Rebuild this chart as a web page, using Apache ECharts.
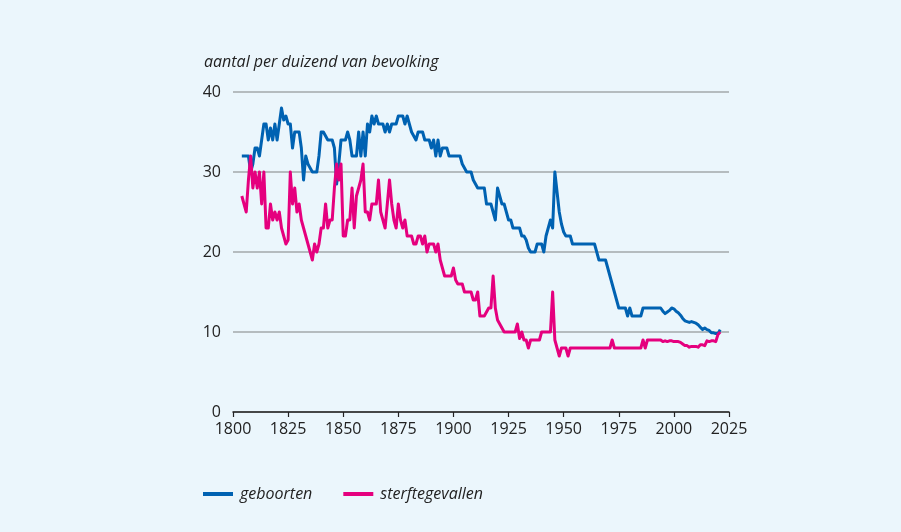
<!DOCTYPE html>
<html>
<head>
<meta charset="utf-8">
<script src="https://cdn.jsdelivr.net/npm/echarts@6/dist/echarts.min.js"></script>
<style>
  html, body { margin: 0; padding: 0; background: #ebf6fc; }
  #chart { width: 901px; height: 532px; }
</style>
</head>
<body>
<div id="chart"></div>
<script>
// geboorten en sterftegevallen per 1000 inwoners, jaarlijks vanaf 1804
const firstYear = 1804
const geboorten = [
  32, 32, 32, 32, 30, 31, 33, 33, 32, 34, // 1804-1813
  36, 36, 34, 35.5, 34, 36, 34, 36, 38, 36.5, // 1814-1823
  37, 36, 36, 33, 35, 35, 35, 33, 29, 32, // 1824-1833
  31, 30.5, 30, 30, 30, 32, 35, 35, 34.5, 34, // 1834-1843
  34, 34, 33, 28.5, 31, 34, 34, 34, 35, 34, // 1844-1853
  32, 32, 32, 35, 32, 35, 32, 36, 35, 37, // 1854-1863
  36, 37, 36, 36, 36, 35, 36, 35, 36, 36, // 1864-1873
  36, 37, 37, 37, 36, 37, 36, 35, 34.5, 34, // 1874-1883
  35, 35, 35, 34, 34, 34, 33, 34, 32, 34, // 1884-1893
  32, 33, 33, 33, 32, 32, 32, 32, 32, 32, // 1894-1903
  31, 30.5, 30, 30, 30, 29, 28.5, 28, 28, 28, // 1904-1913
  28, 26, 26, 26, 25, 24, 28, 27, 26, 26, // 1914-1923
  25, 24, 24, 23, 23, 23, 23, 22, 22, 21.5, // 1924-1933
  20.5, 20, 20, 20, 21, 21, 21, 20, 22, 23, // 1934-1943
  24, 23, 30, 27.5, 25, 23.5, 22.5, 22, 22, 22, // 1944-1953
  21, 21, 21, 21, 21, 21, 21, 21, 21, 21, // 1954-1963
  21, 20, 19, 19, 19, 19, 18, 17, 16, 15, // 1964-1973
  14, 13, 13, 13, 13, 12, 13, 12, 12, 12, // 1974-1983
  12, 12, 13, 13, 13, 13, 13, 13, 13, 13, // 1984-1993
  13, 12.6, 12.3, 12.5, 12.7, 13, 12.9, 12.6, 12.4, 12.1, // 1994-2003
  11.7, 11.4, 11.3, 11.2, 11.3, 11.2, 11.1, 10.9, 10.6, 10.3, // 2004-2013
  10.5, 10.3, 10.2, 9.9, 9.9, 9.8, 9.8, 10.3 // 2014-2021
]
const sterftegevallen = [
  27, 26, 25, 29, 32, 28, 30, 28, 30, 26, // 1804-1813
  30, 23, 23, 26, 24, 25, 24, 25, 23, 22, // 1814-1823
  21, 21.5, 30, 26, 28, 25, 26, 24, 23, 22, // 1824-1833
  21, 20, 19, 21, 20, 21, 23, 23, 26, 23, // 1834-1843
  24, 24, 28, 31, 29, 31, 22, 22, 24, 24, // 1844-1853
  28, 23, 27, 28, 29, 31, 25, 25, 24, 26, // 1854-1863
  26, 26, 29, 25, 24, 23, 26, 29, 26, 24, // 1864-1873
  23, 26, 24, 23, 24, 22, 22, 22, 21, 21, // 1874-1883
  22, 22, 21, 22, 20, 21, 21, 21, 20, 21, // 1884-1893
  19, 18, 17, 17, 17, 17, 18, 16.5, 16, 16, // 1894-1903
  16, 15, 15, 15, 15, 14, 14, 15, 12, 12, // 1904-1913
  12, 12.5, 13, 13, 17, 13, 11.5, 11, 10.5, 10, // 1914-1923
  10, 10, 10, 10, 10, 11, 9.2, 10, 9, 9, // 1924-1933
  8, 9, 9, 9, 9, 9, 10, 10, 10, 10, // 1934-1943
  10, 15, 9, 8, 7, 8, 8, 8, 7, 8, // 1944-1953
  8, 8, 8, 8, 8, 8, 8, 8, 8, 8, // 1954-1963
  8, 8, 8, 8, 8, 8, 8, 8, 9, 8, // 1964-1973
  8, 8, 8, 8, 8, 8, 8, 8, 8, 8, // 1974-1983
  8, 8, 9, 8, 9, 9, 9, 9, 9, 9, // 1984-1993
  9, 8.8, 8.9, 8.8, 8.9, 8.9, 8.8, 8.8, 8.8, 8.7, // 1994-2003
  8.5, 8.3, 8.3, 8.1, 8.2, 8.2, 8.2, 8.1, 8.4, 8.4, // 2004-2013
  8.3, 8.9, 8.8, 8.9, 8.9, 8.8, 9.7, 10 // 2014-2021
]
const yearTicks = [1800, 1825, 1850, 1875, 1900, 1925, 1950, 1975, 2000, 2025]
const valueTicks = [0, 10, 20, 30, 40]

const blue = '#0062b2'
const pink = '#e5007e'
const textColor = '#222'
const font = '"Open Sans", "Noto Sans", sans-serif'

const toPairs = (values) => values.map((v, i) => [firstYear + i, v])

const chart = echarts.init(document.getElementById('chart'))

chart.setOption({
  animation: false,
  backgroundColor: '#ebf6fc',
  textStyle: { fontFamily: font },
  title: {
    text: 'aantal per duizend van bevolking',
    left: 199,
    top: 49,
    textStyle: {
      fontFamily: font,
      fontStyle: 'italic',
      fontWeight: 'normal',
      fontSize: 16,
      color: textColor
    }
  },
  legend: {
    left: 198,
    top: 481,
    itemWidth: 30,
    itemHeight: 4,
    itemGap: 31,
    icon: 'rect',
    textStyle: {
      fontFamily: font,
      fontStyle: 'italic',
      fontSize: 16,
      color: textColor,
      padding: [0, 0, 0, 2]
    },
    data: ['geboorten', 'sterftegevallen']
  },
  grid: {
    left: 233,
    right: 172,
    top: 92,
    bottom: 120,
    containLabel: false
  },
  xAxis: {
    type: 'value',
    min: yearTicks[0],
    max: yearTicks[yearTicks.length - 1],
    interval: 25,
    axisLine: { show: true, lineStyle: { color: '#222', width: 1.5 } },
    axisTick: { show: true, length: 5, lineStyle: { color: '#222', width: 1.2 } },
    axisLabel: {
      color: textColor,
      fontSize: 16,
      margin: 9,
      formatter: (v) => String(v)
    },
    splitLine: { show: false }
  },
  yAxis: {
    type: 'value',
    min: valueTicks[0],
    max: valueTicks[valueTicks.length - 1],
    interval: 10,
    axisLine: { show: false },
    axisTick: { show: false },
    axisLabel: {
      color: textColor,
      fontSize: 16,
      margin: 12,
      formatter: (v) => String(v)
    },
    splitLine: { show: true, lineStyle: { color: '#a3a8ab', width: 1.5 } }
  },
  series: [
    {
      name: 'geboorten',
      type: 'line',
      data: toPairs(geboorten),
      symbol: 'none',
      smooth: false,
      color: blue,
      lineStyle: { color: blue, width: 3, join: 'round' },
      z: 3
    },
    {
      name: 'sterftegevallen',
      type: 'line',
      data: toPairs(sterftegevallen),
      symbol: 'none',
      smooth: false,
      color: pink,
      lineStyle: { color: pink, width: 3, join: 'round' },
      z: 4
    }
  ]
})
</script>
</body>
</html>
